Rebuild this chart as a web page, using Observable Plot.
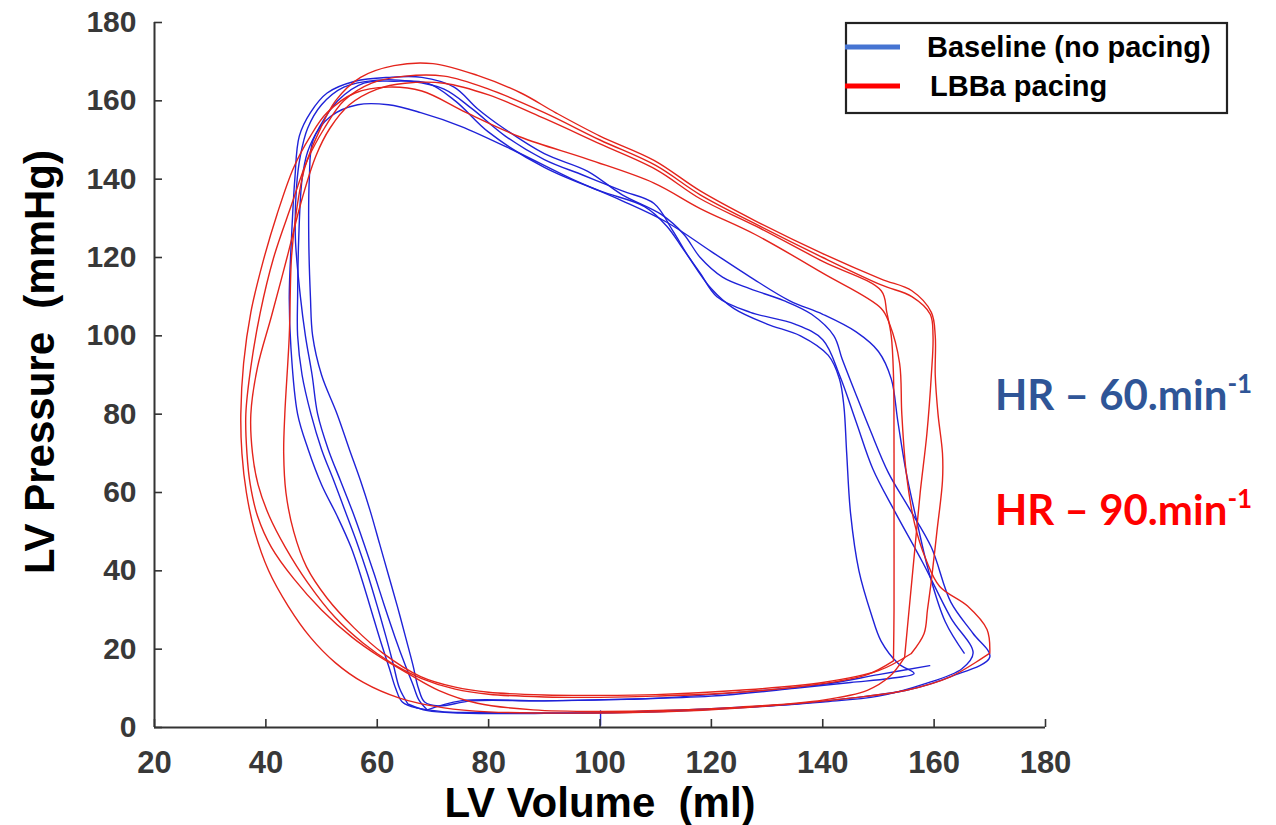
<!DOCTYPE html>
<html><head><meta charset="utf-8">
<script src="https://cdn.jsdelivr.net/npm/d3@7"></script>
<script src="https://cdn.jsdelivr.net/npm/@observablehq/plot@0.6"></script>
<style>body{margin:0;background:#fff;} #chart{position:relative;width:1276px;height:825px;}</style>
</head><body><div id="chart"></div>
<script>
const xTicks = [20, 40, 60, 80, 100, 120, 140, 160, 180];
const yTicks = [0, 20, 40, 60, 80, 100, 120, 140, 160, 180];
const seriesNames = ["Baseline (no pacing)", "LBBa pacing"];
const hrLabels = ["HR \u2013 60.min", "HR \u2013 90.min"];

// Baseline (blue) loops: [volume ml, pressure mmHg]
const blueLoop1 = [[67,5],[72,4],[80,3.8],[100,3.8],[120,4.8],[135,6],[145,7.5],[155,9.5],[163,13],[170,18],[167,24],[163,32],[159.5,46],[155.5,56],[151.8,65],[148.5,76],[145.7,86],[143.5,94],[142,100],[138,105.5],[133,109],[127,112],[122,115],[118,120],[115,126],[111,131],[104,136],[97.8,142],[90,146.5],[82.7,153],[78,158],[73.8,163.5],[68,166],[62,166],[56,165],[51,162],[48,157],[46,151],[45.2,140],[44.6,125],[44.2,110],[44.5,97],[45.7,80],[47.6,71],[50,62],[52.8,54],[55.3,46],[57.2,38],[58.9,30],[60.6,22],[62.2,15],[63.3,10],[64.5,6.5],[67,5]];
const blueLoop2 = [[65.5,6],[69,4.3],[75,3.7],[90,3.6],[110,4],[125,5],[140,6.5],[150,8],[158,11],[165,15],[167,19],[163,28],[158,42],[153,55],[149,66],[146,78],[143,90],[140,99],[135,103],[127,106],[121,110],[118,116],[115,122],[112,128],[108,133],[100,137],[90,143],[80,152],[74,160],[69,164.5],[63,165],[57.6,164.5],[52.9,160],[49.5,153],[47.5,147],[46.5,140],[45.9,125],[45.7,110],[45.7,100],[46.5,90],[48.1,80],[50,71],[52.2,63],[54.3,55],[56.4,47],[58.3,39],[60,31],[61.6,23],[62.9,16],[64,10],[65.5,6]];
const blueLoop3 = [[69,4.5],[75,6.8],[90,6.8],[105,7.2],[120,8],[135,10],[145,11.5],[152,12.5],[156.4,13.8],[153.6,16.3],[150.5,22],[148.7,29],[146.5,40],[145,54.6],[144.3,70],[143.8,82],[143,89],[141,95],[136,100],[130,103],[124,107],[120,112],[116,120],[113,127],[109.7,133.8],[104,137],[97,141],[90,145],[83,151],[77,158],[72,163],[66,165],[60,165.3],[54,163.5],[50,159],[47.5,153],[46.2,146],[45.5,138],[45.3,125],[46.2,110],[47.1,100],[48.3,90],[49.3,80],[51.2,71],[53.4,63],[55.6,55],[57.6,47],[59.5,39],[61.3,31],[63.2,23],[65,16],[66.4,11],[67.5,7],[69,4.5]];
const blueLoop4 = [[165.4,19],[162,27],[159,40],[157,52],[155,65],[153.5,78],[152.3,89],[150,96],[146,101],[140,105.5],[134,109],[127,115],[120,121.5],[112,129],[103.8,134.6],[95,140],[85,147],[75,153.5],[67.8,157],[62,159],[56.5,159],[51.6,156],[48.5,150],[47.8,140],[47.7,125],[48,110],[48.4,100],[50,90],[52.8,80],[55,71],[57,63],[58.8,55],[60.4,47],[62,39],[63.6,31],[65.1,23],[66.4,16],[67.4,10],[68.5,6.5],[71,5.5],[77,6.8],[90,6.8],[110,7.5],[125,9],[140,11],[150,13.5],[159.2,15.8]];
const blueArtifact = [[100.1,4.2],[100.1,0.6]];

// LBBa pacing (red) loops
const redLoop1 = [[170,19],[169.5,25],[166,31],[161,36],[158.5,43],[156.5,52],[155,65],[154.2,80],[153.8,93],[152,103],[150.5,107],[140,116],[127.7,126],[118,132.5],[109.7,139],[98,145],[85.8,150.7],[76,157],[68,162.5],[62,163.5],[56,162],[51,157],[48,151],[45,143],[42,131],[39.5,119],[37.3,106],[36,93],[35.5,80],[35.7,70],[36.5,60],[38,50],[40.5,40],[44,31],[48,23],[52.5,16.5],[57.5,11.5],[64,7.5],[72,5],[80,4],[100,3.7],[115,4.2],[130,5.5],[145,7.5],[155,9.5],[163,13],[170,19]];
const redLoop2 = [[154.7,17.9],[155.5,30],[156.5,45],[157.5,60],[158.7,75],[159.5,90],[159.8,100],[159.3,105.5],[156,110],[150.5,113],[140,120],[128,128.5],[118,136],[110,143.5],[100,150],[90,157],[80,163],[72,166.3],[65,166.3],[59,164.5],[54,160],[50.5,153],[47.5,145],[44.5,133],[41.4,120],[39,106],[37.3,92],[36.4,80],[36.6,70],[37.2,62],[38.5,54],[41,46],[45,38],[50,30],[55.5,23],[60.5,18],[65.5,13.8],[71,9.5],[78,6.2],[88,4.5],[100,4.1],[112,4.4],[125,5.2],[140,7],[148,9.5],[152,13],[154.7,17.9]];
const redLoop3 = [[152.7,17],[152.8,30],[152.8,50],[152.8,70],[152.7,90],[152.3,100],[151.5,106],[150.5,111.5],[140,119],[128,128],[118,135],[110,142.5],[100,149],[90,155.5],[80,161.5],[72,164.5],[65,164.5],[60,163],[55,159],[51.5,153],[49,146],[46.5,135],[43.8,120],[41,105],[38.5,92],[37.3,80],[37.6,70],[38.6,62],[40.6,54],[43.5,46],[47.5,37],[52.5,28],[57.5,21.5],[62.5,16.5],[68,12.5],[74,9.8],[80,8.5],[90,7.8],[100,7.7],[110,8],[125,9],[140,11.2],[148,13.5],[152.7,17]];
const redLoop4 = [[155.9,18.9],[158.2,24],[158.8,30],[159.5,37.5],[160.5,50],[161.5,63],[161.5,70],[160.7,80],[160.2,90],[160.2,100],[159.5,106],[156,111.5],[150.5,114.5],[140,121],[127.7,129.5],[118,137],[109.7,144.8],[100,151],[92,157],[85.8,162],[78,166.5],[70,169.5],[63,169],[57,166],[52.5,160],[49.5,152],[47,143],[45.5,132],[44.6,120],[44.2,100],[43.4,80],[43.2,70],[43.6,60],[45,50],[47.3,41],[51,33],[55.8,25.5],[61,19],[67.8,13],[74,10.3],[80,9],[90,8.3],[100,8.2],[110,8.4],[125,9.5],[140,11.5],[150,14.5],[155.9,18.9]];

const loops = [
  {id: "b1", s: 0, pts: blueLoop1}, {id: "b2", s: 0, pts: blueLoop2},
  {id: "b3", s: 0, pts: blueLoop3}, {id: "b4", s: 0, pts: blueLoop4},
  {id: "b5", s: 0, pts: blueArtifact},
  {id: "r1", s: 1, pts: redLoop1}, {id: "r2", s: 1, pts: redLoop2},
  {id: "r3", s: 1, pts: redLoop3}, {id: "r4", s: 1, pts: redLoop4}
];
const rows = loops.flatMap(l => l.pts.map(([vol, p]) => ({loop: l.id, series: seriesNames[l.s], vol, p})));

const lineColors = ["#1f22d8", "#e4241c"];
const legendColors = ["#4674d2", "#ff0000"];
const hrColors = ["#2f5597", "#ff0000"];
const font = "'Liberation Sans', Arial, Helvetica, sans-serif";

const plot = Plot.plot({
  width: 1276, height: 825,
  marginLeft: 154, marginRight: 231, marginTop: 22, marginBottom: 98,
  style: {fontFamily: font, background: "white", overflow: "visible"},
  x: {domain: [20, 180]},
  y: {domain: [0, 180]},
  color: {domain: seriesNames, range: lineColors},
  marks: [
    Plot.line(rows.filter(d => d.series === seriesNames[0]), {x: "vol", y: "p", z: "loop", stroke: "series", strokeWidth: 1.4, curve: "catmull-rom"}),
    Plot.line(rows.filter(d => d.series === seriesNames[1]), {x: "vol", y: "p", z: "loop", stroke: "series", strokeWidth: 1.4, curve: "catmull-rom"}),
    Plot.ruleY([0], {stroke: "#333", strokeWidth: 2}),
    Plot.ruleX([20], {stroke: "#333", strokeWidth: 2}),
    Plot.axisX({ticks: xTicks, tickSize: -8, tickPadding: 31, fontSize: 31, fontWeight: "bold", color: "#383838", stroke: "#333", strokeWidth: 1.6, label: null}),
    Plot.axisY({ticks: yTicks, tickSize: -8, tickPadding: 26, fontSize: 30, fontWeight: "bold", color: "#383838", stroke: "#333", strokeWidth: 1.6, label: null})
  ]
});
document.getElementById("chart").append(plot);

const svg = d3.select(plot);
const g = svg.append("g").attr("font-family", font).attr("font-weight", "bold");
// axis titles
g.append("text").attr("x", 600).attr("y", 817).attr("text-anchor", "middle").attr("font-size", 42).attr("fill", "#000")
  .text("LV Volume\u00a0 (ml)");
g.append("text").attr("transform", "translate(54,362) rotate(-90)").attr("text-anchor", "middle").attr("font-size", 42).attr("fill", "#000")
  .text("LV Pressure\u00a0 (mmHg)");
// legend box
g.append("rect").attr("x", 846).attr("y", 23).attr("width", 381).attr("height", 90).attr("fill", "white").attr("stroke", "#222").attr("stroke-width", 2.2);
seriesNames.forEach((name, i) => {
  const cy = [47, 86][i];
  g.append("line").attr("x1", 845).attr("x2", 900).attr("y1", cy).attr("y2", cy).attr("stroke", legendColors[i]).attr("stroke-width", 5);
  g.append("text").attr("x", [927, 930][i]).attr("y", cy + 10).attr("text-anchor", "start").attr("font-size", 29).attr("fill", "#000").text(name);
});
// heart-rate labels
hrLabels.forEach((t, i) => {
  const txt = g.append("text").attr("x", 995).attr("y", [410, 525][i]).attr("text-anchor", "start")
    .attr("font-family", "Lato, 'Open Sans', sans-serif").attr("font-size", 42).attr("font-weight", "bold").attr("fill", hrColors[i]);
  txt.append("tspan").text(t);
  txt.append("tspan").attr("font-size", 26).attr("dy", -17).text("-1");
});
</script>
</body></html>
